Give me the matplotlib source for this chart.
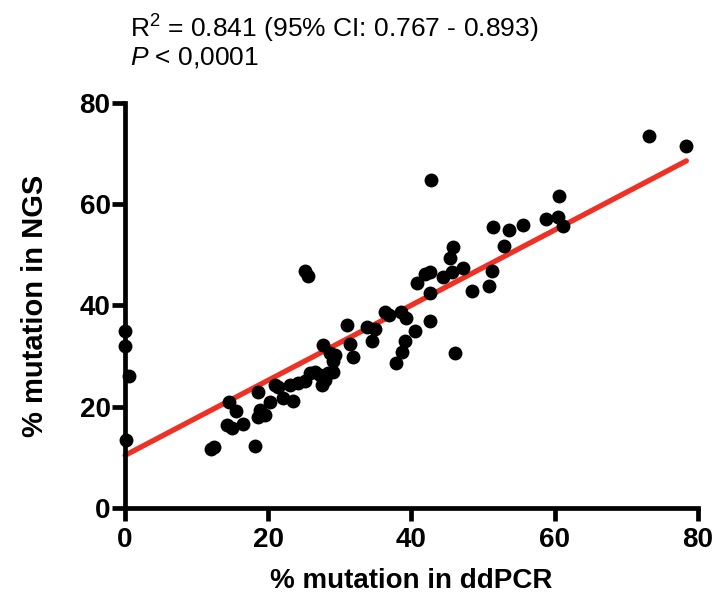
import matplotlib
matplotlib.use("Agg")
import matplotlib.pyplot as plt
import numpy as np

ddpcr = [0.0, 0.0, 0.5, 0.1, 12.0, 12.4, 18.2, 14.5, 15.5, 14.2, 14.9, 16.5,
         18.6, 18.9, 19.6, 18.6, 20.2, 20.9, 21.4, 22.1, 23.5, 23.0, 24.2, 25.1,
         25.8, 26.5, 27.2, 27.5, 27.9, 28.3, 29.0, 27.7, 25.1, 25.6, 28.6, 29.3,
         29.1, 31.0, 31.4, 31.8, 33.8, 34.5, 34.9, 36.3, 36.8, 38.6, 39.2, 40.5,
         39.1, 38.7, 37.8, 40.8, 41.9, 42.6, 42.6, 42.6, 44.4, 45.4, 45.8, 45.6,
         47.2, 48.5, 46.1, 42.7, 50.8, 51.2, 51.4, 52.9, 53.6, 55.6, 58.8, 60.5,
         60.6, 61.2, 73.2, 78.4]
ngs = [35.0, 32.0, 26.0, 13.4, 11.6, 12.0, 12.3, 21.0, 19.2, 16.4, 15.8, 16.5,
       22.9, 19.4, 18.4, 18.0, 20.9, 24.3, 23.8, 21.7, 21.2, 24.3, 24.7, 25.0,
       26.6, 26.9, 26.3, 24.3, 25.3, 26.6, 26.8, 32.2, 46.8, 45.9, 30.6, 30.2,
       29.0, 36.2, 32.3, 29.8, 35.8, 33.0, 35.4, 38.7, 38.1, 38.7, 37.5, 35.0,
       32.9, 30.8, 28.6, 44.5, 46.2, 46.6, 42.5, 37.0, 45.7, 49.3, 51.6, 46.6,
       47.4, 42.8, 30.7, 64.8, 43.9, 46.8, 55.5, 51.8, 54.9, 55.9, 57.1, 57.5,
       61.7, 55.7, 73.5, 71.5]

fit_slope = 0.742
fit_intercept = 10.4
fit_x_range = [0.0, 78.4]

x_ticks = [0, 20, 40, 60, 80]
y_ticks = [0, 20, 40, 60, 80]
x_label = "% mutation in ddPCR"
y_label = "% mutation in NGS"
stat_line1 = r"R$^2$ = 0.841 (95% CI: 0.767 - 0.893)"
stat_line2 = r"$P$ < 0,0001"

font = "Liberation Sans"
plt.rcParams["font.family"] = [font, "DejaVu Sans"]
plt.rcParams["mathtext.fontset"] = "custom"
plt.rcParams["mathtext.rm"] = font
plt.rcParams["mathtext.it"] = font + ":italic"

fig = plt.figure(figsize=(7.15, 5.99), dpi=100)
ax = fig.add_axes([0.175, 0.152, 0.801, 0.676])

fx = np.array(fit_x_range)
ax.plot(fx, fit_intercept + fit_slope * fx, color="#EE3124", lw=3.8,
        solid_capstyle="round", zorder=2, clip_on=False)
ax.scatter(ddpcr, ngs, s=100, color="black", zorder=3, clip_on=False,
           linewidths=0)

ax.set_xlim(0, 80)
ax.set_ylim(0, 80)
ax.set_xticks(x_ticks)
ax.set_yticks(y_ticks)
for s in ["top", "right"]:
    ax.spines[s].set_visible(False)
for s in ["left", "bottom"]:
    ax.spines[s].set_linewidth(3.4)
ax.tick_params(width=3.4, length=9.5, labelsize=20)
ax.tick_params(axis="x", pad=4)
ax.tick_params(axis="y", pad=1)
for lab in ax.get_xticklabels() + ax.get_yticklabels():
    lab.set_fontweight("bold")

ax.set_xlabel(x_label, fontsize=20, fontweight="bold", labelpad=11)
ax.set_ylabel(y_label, fontsize=21, fontweight="bold", labelpad=22)

fig.text(130 / 715, 1 - 38 / 599, stat_line1, fontsize=19, ha="left",
         va="baseline")
fig.text(130 / 715, 1 - 64 / 599, stat_line2, fontsize=19, ha="left",
         va="baseline")

fig.savefig("out.png", dpi=100)
